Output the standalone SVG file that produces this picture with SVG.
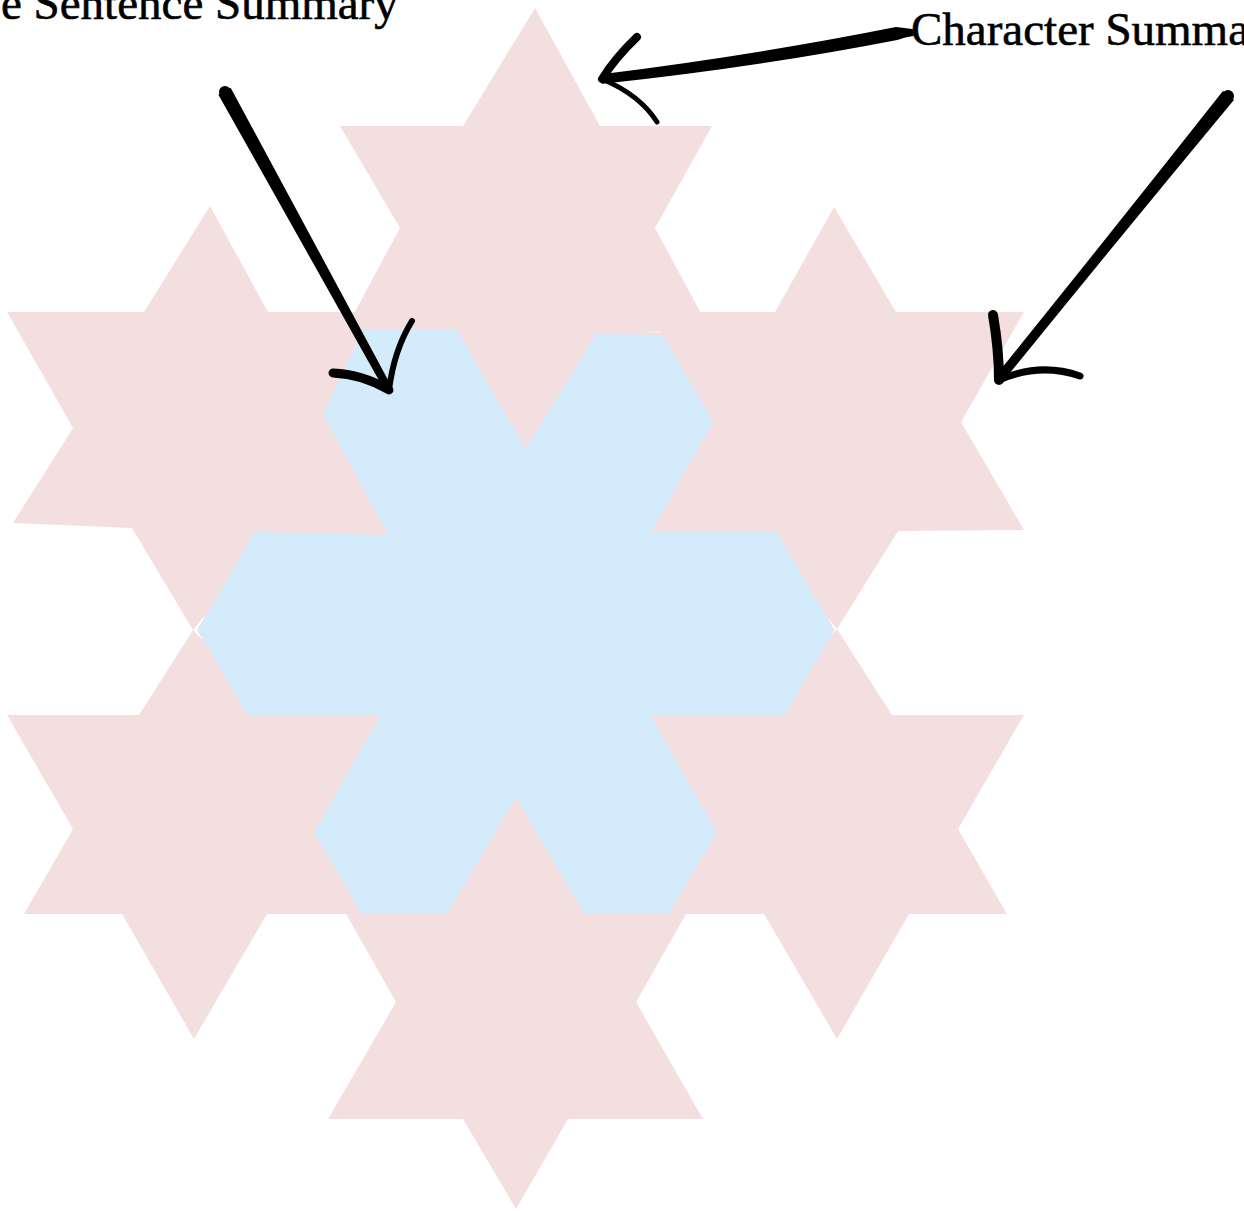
<svg xmlns="http://www.w3.org/2000/svg" width="1244" height="1211" viewBox="0 0 1244 1211">
<style>
.star{fill:#f4dfe0;stroke:none}
.seam{fill:none;stroke:#f4dfe0;stroke-width:5;stroke-linejoin:miter}
.core{fill:#d4ebfc;stroke:none}
.shaft{fill:#000;stroke:#000;stroke-width:2;stroke-linejoin:round}
.barb{fill:none;stroke:#000;stroke-linecap:round;stroke-linejoin:round}
.lbl{font-family:"Liberation Serif",serif;font-size:47px;fill:#000;stroke:#000;stroke-width:0.6}
</style>
<rect width="1244" height="1211" fill="#fff"/>
<g id="star-top"><polygon class="star" points="535,8 600,126 712,126 655,228 710,330 596,334 526,449 457,330 345,330 400,228 340,126 463,126"/></g>
<g id="star-upper-left"><polygon class="star" points="210,206 268,312 405,312 325,420 388,535 275,532 193,630 132,528 13,523 73,428 7,312 144,312"/></g>
<g id="star-upper-right"><polygon class="star" points="834,207 896,312 1024,312 961,422 1024,530 898,531 837,629 760,532 651,532 713,422 650,312 775,312"/></g>
<g id="star-lower-left"><polygon class="star" points="193,630 275,715 381,715 314,832 361,914 267,914 194,1039 122,914 24,914 73,829 7,715 139,715"/></g>
<g id="star-lower-right"><polygon class="star" points="837,629 892,715 1024,715 958,829 1007,914 909,914 837,1039 764,914 669,914 717,832 650,715 765,715"/></g>
<g id="star-bottom"><polygon class="star" points="516,797 584,914 686,914 636,1002 703,1119 568,1119 516,1209 463,1119 328,1119 396,1002 346,914 447,914"/></g>
<g id="center">
<polygon class="seam" points="363,330 457,330 526,449 596,334 663,335 713,422 651,532 777,532 832,630 785,715 650,715 717,832 669,914 584,914 516,797 447,914 362,914 314,832 381,715 247,715 200,630 255,532 388,535 323,414"/>
<polygon class="core" points="363,330 457,330 526,449 596,334 663,335 713,422 651,532 777,532 834,630 785,715 650,715 717,832 669,914 584,914 516,797 447,914 362,914 314,832 381,715 247,715 198,630 255,532 388,535 323,414"/>
</g>
<g id="connectors">
<g id="arrow-sentence">
<path class="shaft" d="M230.3,89.1 Q310.6,239 391.6,388.6 L386.4,391.4 Q303.4,243 219.7,94.9 Z"/>
<circle cx="225" cy="92" r="6"/>
<path class="barb" stroke-width="9" d="M333,373 Q362,374 389,390"/>
<path class="barb" stroke-width="6" d="M412,321 Q394,350 389,390"/>
</g>
<g id="arrow-character-top">
<path class="shaft" d="M896,28 Q757,55.8 601.4,75.2 L602.6,82.8 Q757.5,66.2 897,39 Q905,36 913,35 L912,30 Q905,29 896,28 Z"/>
<path class="barb" stroke-width="8" d="M637,37 Q615,58 602,79"/>
<path class="barb" stroke-width="5" d="M602,79 Q640,95 657,122"/>
</g>
<g id="arrow-character-right">
<path class="shaft" d="M1232.7,99.8 Q1116.4,239.9 1001.9,381.4 L996.1,376.6 Q1110.6,235.1 1223.3,92.2 Z"/>
<circle cx="1228" cy="96" r="6"/>
<path class="barb" stroke-width="10" d="M993,315 Q999,350 999,380"/>
<path class="barb" stroke-width="7" d="M999,380 Q1040,362 1080,376"/>
</g>
</g>
<g id="labels">
<text class="lbl" x="1" y="19">e Sentence Summary</text>
<text class="lbl" x="911" y="45">Character Summa</text>
</g>
</svg>
